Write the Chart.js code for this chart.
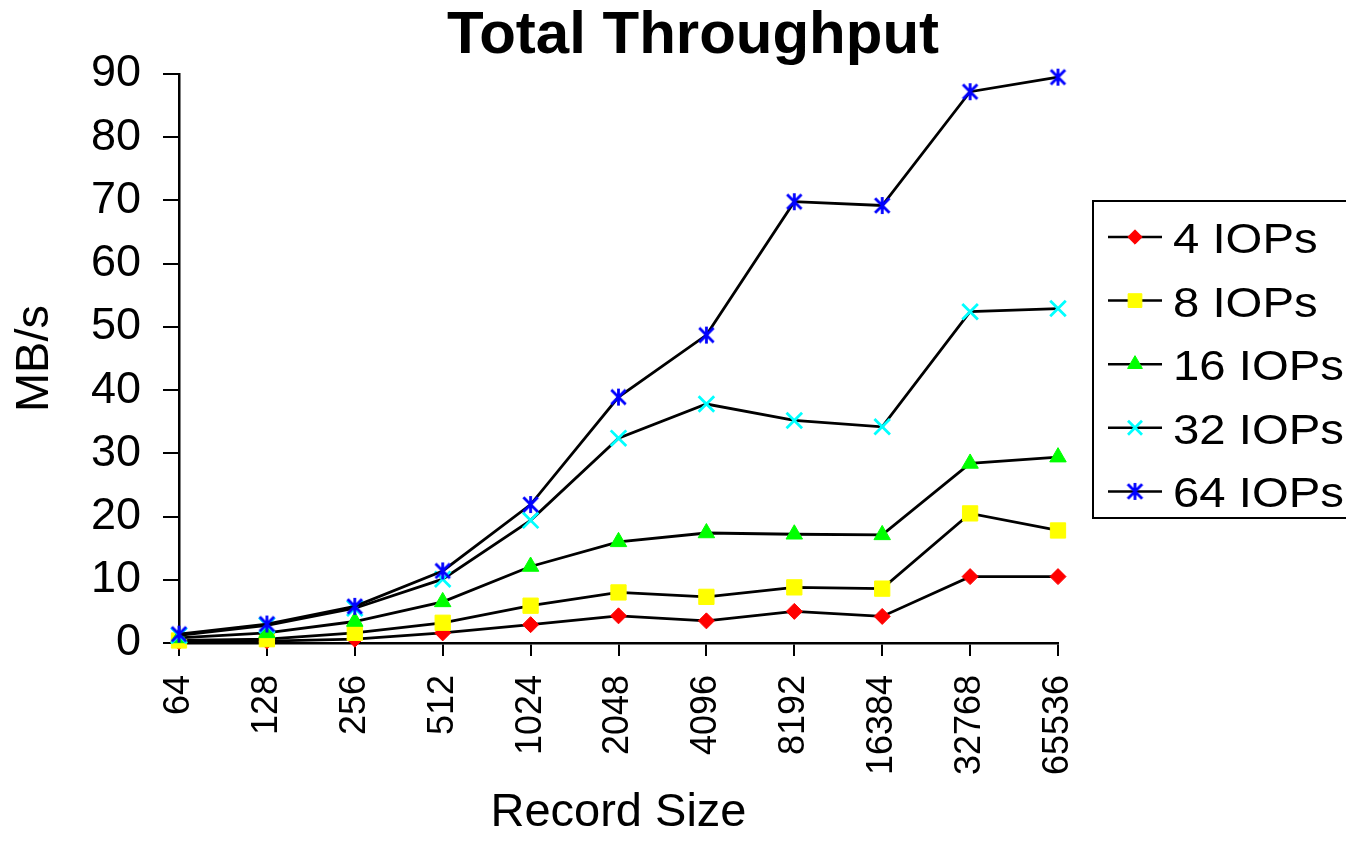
<!DOCTYPE html>
<html>
<head>
<meta charset="utf-8">
<title>Total Throughput</title>
<script src="https://cdn.jsdelivr.net/npm/chart.js@4/dist/chart.umd.min.js"></script>
<style>
  html, body { margin: 0; padding: 0; background: #ffffff; }
  canvas { display: block; }
</style>
</head>
<body>
<canvas id="chart" width="1346" height="841"></canvas>
<script>
// Record sizes along the x axis
const recordSizes = ['64', '128', '256', '512', '1024', '2048', '4096', '8192', '16384', '32768', '65536'];

// Throughput in MB/s for each number of IOPs
const iops4  = [0.2, 0.3, 0.6, 1.6, 2.9, 4.3, 3.5, 5.0, 4.2, 10.5, 10.5];
const iops8  = [0.4, 0.6, 1.6, 3.2, 5.9, 8.0, 7.3, 8.8, 8.6, 20.5, 17.8];
const iops16 = [0.8, 1.6, 3.4, 6.5, 12.1, 16.0, 17.4, 17.2, 17.1, 28.4, 29.4];
const iops32 = [1.2, 2.8, 5.5, 10.1, 19.4, 32.4, 37.8, 35.2, 34.2, 52.4, 52.9];
const iops64 = [1.4, 3.0, 5.8, 11.4, 21.9, 38.9, 48.7, 69.8, 69.2, 87.2, 89.5];

const seriesLabels = ['4 IOPs', '8 IOPs', '16 IOPs', '32 IOPs', '64 IOPs'];

// Value axis range and tick step
const yMin = 0;
const yMax = 90;
const yStep = 10;

const chartTitle = 'Total Throughput';
const xTitle = 'Record Size';
const yTitle = 'MB/s';

const FONT = '"Liberation Sans", Arial, Helvetica, sans-serif';

// Asterisk marker: vertical bar plus an X
function makeAsterisk(color, size, lw) {
  const cv = document.createElement('canvas');
  cv.width = size;
  cv.height = size;
  const g = cv.getContext('2d');
  g.strokeStyle = color;
  g.lineWidth = lw;
  const c = size / 2;
  const r = size / 2 - 1;
  const d = r * 0.85;
  g.beginPath();
  g.moveTo(c, c - r); g.lineTo(c, c + r);
  g.moveTo(c - d, c - d); g.lineTo(c + d, c + d);
  g.moveTo(c + d, c - d); g.lineTo(c - d, c + d);
  g.stroke();
  return cv;
}

const asterisk = makeAsterisk('#0000FF', 19, 2.8);

const seriesStyle = [
  { data: iops4,  color: '#FF0000', style: 'rectRot',  radius: 8,    bw: 1 },
  { data: iops8,  color: '#FFFF00', style: 'rect',     radius: 10.8, bw: 1 },
  { data: iops16, color: '#00FF00', style: 'triangle', radius: 9.5,  bw: 1 },
  { data: iops32, color: '#00FFFF', style: 'crossRot', radius: 11,   bw: 2.8 },
  { data: iops64, color: '#0000FF', style: asterisk,   radius: 9.5,  bw: 1 }
];

const datasets = seriesStyle.map((s, i) => ({
  label: seriesLabels[i],
  data: s.data,
  borderColor: '#000000',
  borderWidth: 2.8,
  tension: 0,
  fill: false,
  pointStyle: s.style,
  pointRadius: s.radius,
  pointHoverRadius: s.radius,
  pointBackgroundColor: s.color,
  pointBorderColor: s.color,
  pointBorderWidth: s.bw,
  order: seriesStyle.length - 1 - i,
  clip: false
}));

// Chart heading
const headingPlugin = {
  id: 'heading',
  afterDraw(chart) {
    const ctx = chart.ctx;
    ctx.save();
    ctx.font = 'bold 60px ' + FONT;
    ctx.fillStyle = '#000000';
    ctx.textAlign = 'center';
    ctx.textBaseline = 'alphabetic';
    ctx.fillText(chartTitle, 693, 53);
    ctx.restore();
  }
};

// Boxed legend with a line through each marker
const boxLegendPlugin = {
  id: 'boxLegend',
  afterDraw(chart) {
    const ctx = chart.ctx;
    const left = 1093, top = 201, bottom = 518, right = 1370;
    ctx.save();
    ctx.strokeStyle = '#000000';
    ctx.lineWidth = 2;
    ctx.strokeRect(left, top, right - left, bottom - top);
    const rowTop = 237, rowGap = 63.6;
    chart.data.datasets.forEach((ds, i) => {
      const y = rowTop + i * rowGap;
      ctx.strokeStyle = '#000000';
      ctx.lineWidth = 2.5;
      ctx.beginPath();
      ctx.moveTo(1108, y);
      ctx.lineTo(1162, y);
      ctx.stroke();
      ctx.fillStyle = ds.pointBackgroundColor;
      ctx.strokeStyle = ds.pointBorderColor;
      ctx.lineWidth = ds.pointBorderWidth;
      Chart.helpers.drawPoint(ctx, {
        pointStyle: ds.pointStyle,
        radius: ds.pointRadius * 0.9,
        rotation: 0,
        borderWidth: ds.pointBorderWidth
      }, 1135, y);
      // slightly widened lettering
      ctx.save();
      ctx.translate(1173, y + 16);
      ctx.scale(1.1, 1);
      ctx.fillStyle = '#000000';
      ctx.font = '43px ' + FONT;
      ctx.textAlign = 'left';
      ctx.textBaseline = 'alphabetic';
      ctx.fillText(ds.label, 0, 0);
      ctx.restore();
    });
    ctx.restore();
  }
};

new Chart(document.getElementById('chart'), {
  type: 'line',
  data: { labels: recordSizes, datasets: datasets },
  options: {
    responsive: false,
    animation: false,
    layout: { padding: { top: 74, right: 288, bottom: 0, left: 0 } },
    plugins: {
      legend: { display: false },
      tooltip: { enabled: false },
      title: { display: false }
    },
    scales: {
      x: {
        type: 'category',
        offset: false,
        grid: {
          display: true,
          drawOnChartArea: false,
          drawTicks: true,
          tickLength: 13,
          color: '#000000',
          lineWidth: 2
        },
        border: { display: true, color: '#000000', width: 2.5 },
        ticks: {
          autoSkip: false,
          minRotation: 90,
          maxRotation: 90,
          padding: 19,
          color: '#000000',
          font: { family: FONT, size: 36 }
        },
        title: {
          display: true,
          text: xTitle,
          color: '#000000',
          font: { family: FONT, size: 47 },
          padding: { top: -8, bottom: 0 }
        },
        afterFit(scale) { scale.height = 198; }
      },
      y: {
        min: yMin,
        max: yMax,
        grid: {
          display: true,
          drawOnChartArea: false,
          drawTicks: true,
          tickLength: 16,
          color: '#000000',
          lineWidth: 2
        },
        border: { display: true, color: '#000000', width: 2.5 },
        ticks: {
          stepSize: yStep,
          padding: 22,
          color: '#000000',
          font: { family: FONT, size: 45 }
        },
        title: {
          display: true,
          text: yTitle,
          color: '#000000',
          font: { family: FONT, size: 47 },
          padding: { top: 7, bottom: 0 }
        },
        afterFit(scale) { scale.width = 179; }
      }
    }
  },
  plugins: [headingPlugin, boxLegendPlugin]
});
</script>
</body>
</html>
